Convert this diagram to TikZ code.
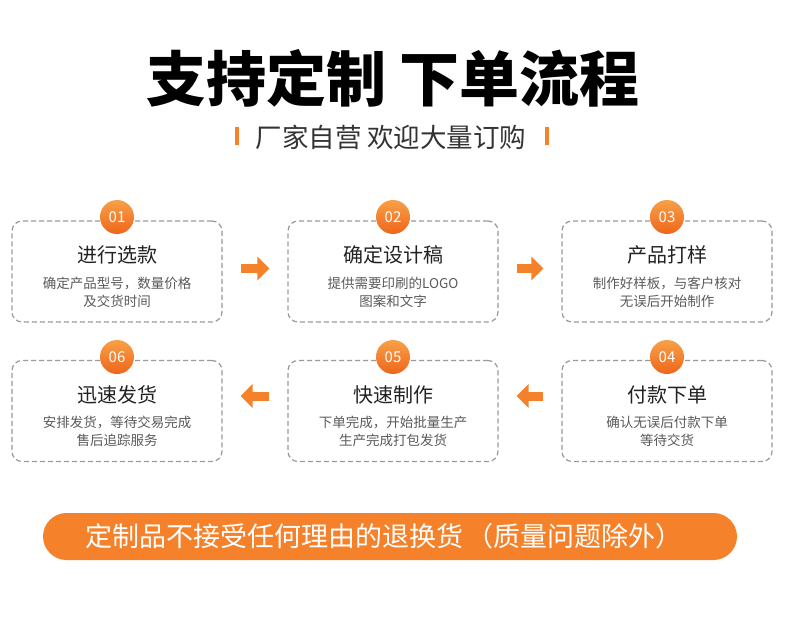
\documentclass[tikz,border=0pt]{standalone}
\usepackage{fontspec}
\setmainfont{Noto Sans CJK SC}
\usetikzlibrary{arrows.meta,shapes.misc}
\definecolor{orng}{HTML}{F5822A}
\definecolor{orngtop}{HTML}{F8A048}
\definecolor{orngbot}{HTML}{EE661C}
\definecolor{ttlc}{HTML}{222222}
\definecolor{subc}{HTML}{333333}
\definecolor{txtc}{HTML}{5A5A5A}
\definecolor{dashc}{HTML}{9A9A9A}
\begin{document}
\begin{tikzpicture}[x=1pt,y=-1pt,
  box/.style={draw=dashc, dash pattern=on 5pt off 3pt, line width=1.2pt, rounded corners=10pt,
    minimum width=210pt, minimum height=101pt, inner sep=0pt},
  num/.style={circle, minimum size=34pt, inner sep=0pt, top color=orngtop, bottom color=orngbot,
    text=white, font=\fontsize{15}{15}\selectfont},
  ttl/.style={font=\fontsize{20}{20}\selectfont, text=ttlc, inner sep=0pt},
  sub/.style={font=\fontsize{13.5}{18}\selectfont, text=txtc, align=center, inner sep=0pt},
  flow/.style={draw=orng, line width=9pt, -{Triangle[length=12pt,width=23pt]}, shorten <=18pt, shorten >=18pt},
  bar/.style={fill=orng, draw=none, minimum width=4pt, minimum height=18pt, inner sep=0pt},
]
\useasboundingbox (0,0) rectangle (790,634);
\fill[white] (0,0) rectangle (790,634);

% title
\node[font=\fontsize{60}{60}\selectfont\bfseries, text=black, inner sep=0pt] (title) at (393,78) {支持定制 下单流程};
\node[font=\fontsize{26.5}{26.5}\selectfont, text=subc, inner sep=0pt] (subtitle) at (391,137) {厂家自营 欢迎大量订购};
\node[bar] (barl) at (237,136) {};
\node[bar] (barr) at (547,136) {};

% boxes
\node[box] (b1) at (117,271.5) {};
\node[box] (b2) at (393,271.5) {};
\node[box] (b3) at (667,271.5) {};
\node[box] (b6) at (117,411) {};
\node[box] (b5) at (393,411) {};
\node[box] (b4) at (667,411) {};

% number badges
\node[num] (n1) at (117,217) {01};
\node[num] (n2) at (393,217) {02};
\node[num] (n3) at (667,217) {03};
\node[num] (n6) at (117,357) {06};
\node[num] (n5) at (393,357) {05};
\node[num] (n4) at (667,357) {04};

% texts row 1
\node[ttl] (t1) at (117,255) {进行选款};
\node[sub] (s1) at (117,292) {确定产品型号，数量价格\\及交货时间};
\node[ttl] (t2) at (393,255) {确定设计稿};
\node[sub] (s2) at (393,292) {提供需要印刷的LOGO\\图案和文字};
\node[ttl] (t3) at (667,255) {产品打样};
\node[sub] (s3) at (667,292) {制作好样板，与客户核对\\无误后开始制作};
% texts row 2
\node[ttl] (t6) at (117,395) {迅速发货};
\node[sub] (s6) at (117,431) {安排发货，等待交易完成\\售后追踪服务};
\node[ttl] (t5) at (393,395) {快速制作};
\node[sub] (s5) at (393,431) {下单完成，开始批量生产\\生产完成打包发货};
\node[ttl] (t4) at (667,395) {付款下单};
\node[sub] (s4) at (667,431) {确认无误后付款下单\\等待交货};

% arrows
\draw[flow] ([yshift=3pt]b1.east) -- ([yshift=3pt]b2.west);
\draw[flow] ([yshift=3pt]b2.east) -- ([yshift=3pt]b3.west);
\draw[flow] ([yshift=15pt]b4.west) -- ([yshift=15pt]b5.east);
\draw[flow] ([yshift=15pt]b5.west) -- ([yshift=15pt]b6.east);

% banner
\node[rounded rectangle, fill=orng, minimum width=694pt, minimum height=47pt, inner sep=0pt] (banner) at (390,536.5) {};
\node[text=white, font=\fontsize{27}{27}\selectfont, inner sep=0pt] (bannertext) at (384,536.5) {定制品不接受任何理由的退换货\kern3pt（质量问题除外）};
\end{tikzpicture}
\end{document}
